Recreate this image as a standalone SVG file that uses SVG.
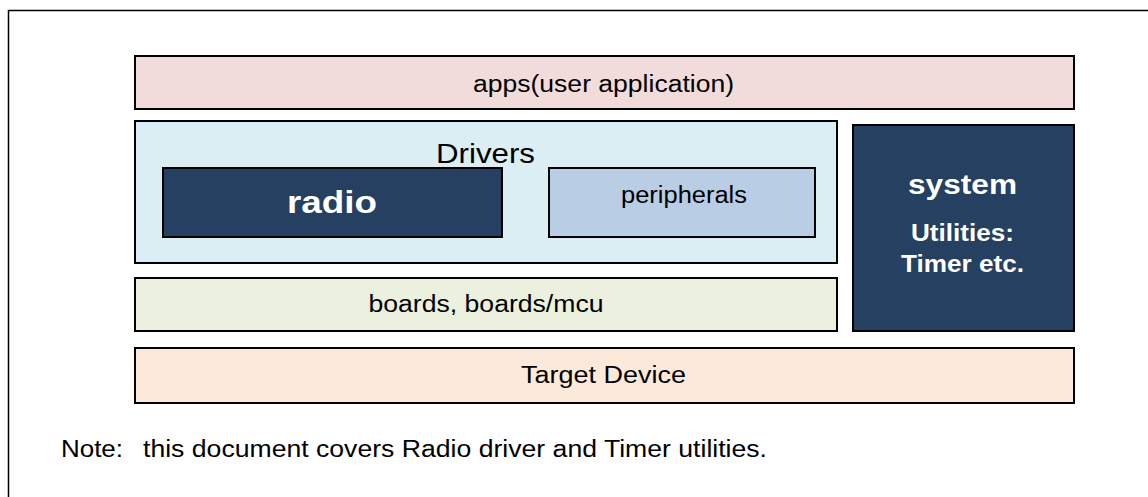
<svg xmlns="http://www.w3.org/2000/svg" width="1148" height="497" viewBox="0 0 1148 497">
<style>
.box{stroke:#000;stroke-width:2}
.t{font-family:"Liberation Sans",Arial,sans-serif;fill:#000;text-anchor:middle}
.w{font-family:"Liberation Sans",Arial,sans-serif;fill:#fff;font-weight:bold;text-anchor:middle}
.n{font-family:"Liberation Sans",Arial,sans-serif;fill:#000;font-size:23px}
</style>
<rect x="0" y="0" width="1148" height="497" fill="#fff"/>
<rect x="8.5" y="10.5" width="1150" height="500" fill="none" stroke="#000" stroke-width="1.5"/>
<g id="apps">
<rect class="box" x="135" y="56" width="939" height="53" fill="#F2DCDB"/>
<text class="t" x="603.5" y="92" font-size="23" textLength="261" lengthAdjust="spacingAndGlyphs">apps(user application)</text>
</g>
<g id="drivers">
<rect class="box" x="135" y="121" width="702" height="142" fill="#DAEEF3"/>
<text class="t" x="485.5" y="163" font-size="28" textLength="99" lengthAdjust="spacingAndGlyphs">Drivers</text>
</g>
<g id="radio">
<rect class="box" x="163" y="168" width="339" height="69" fill="#254061"/>
<text class="w" x="332" y="213" font-size="32" textLength="90" lengthAdjust="spacingAndGlyphs">radio</text>
</g>
<g id="peripherals">
<rect class="box" x="549" y="168" width="266" height="69" fill="#B9CDE5"/>
<text class="t" x="684" y="203" font-size="23" textLength="126" lengthAdjust="spacingAndGlyphs">peripherals</text>
</g>
<g id="system">
<rect class="box" x="853" y="125" width="221" height="206" fill="#254061"/>
<text class="w" x="962.5" y="194" font-size="28" textLength="109" lengthAdjust="spacingAndGlyphs">system</text>
<text class="w" x="962.5" y="241" font-size="23" textLength="103" lengthAdjust="spacingAndGlyphs">Utilities:</text>
<text class="w" x="962.5" y="272" font-size="23" textLength="123" lengthAdjust="spacingAndGlyphs">Timer etc.</text>
</g>
<g id="boards">
<rect class="box" x="135" y="278" width="702" height="53" fill="#EBF1DE"/>
<text class="t" x="486" y="312" font-size="23" textLength="235" lengthAdjust="spacingAndGlyphs">boards, boards/mcu</text>
</g>
<g id="target">
<rect class="box" x="135" y="348" width="939" height="55" fill="#FDE9D9"/>
<text class="t" x="603.5" y="383" font-size="23" textLength="165" lengthAdjust="spacingAndGlyphs">Target Device</text>
</g>
<g id="connectors"></g>
<text class="n" x="61" y="457" textLength="62" lengthAdjust="spacingAndGlyphs">Note:</text>
<text class="n" x="143" y="457" textLength="624" lengthAdjust="spacingAndGlyphs">this document covers Radio driver and Timer utilities.</text>
</svg>
